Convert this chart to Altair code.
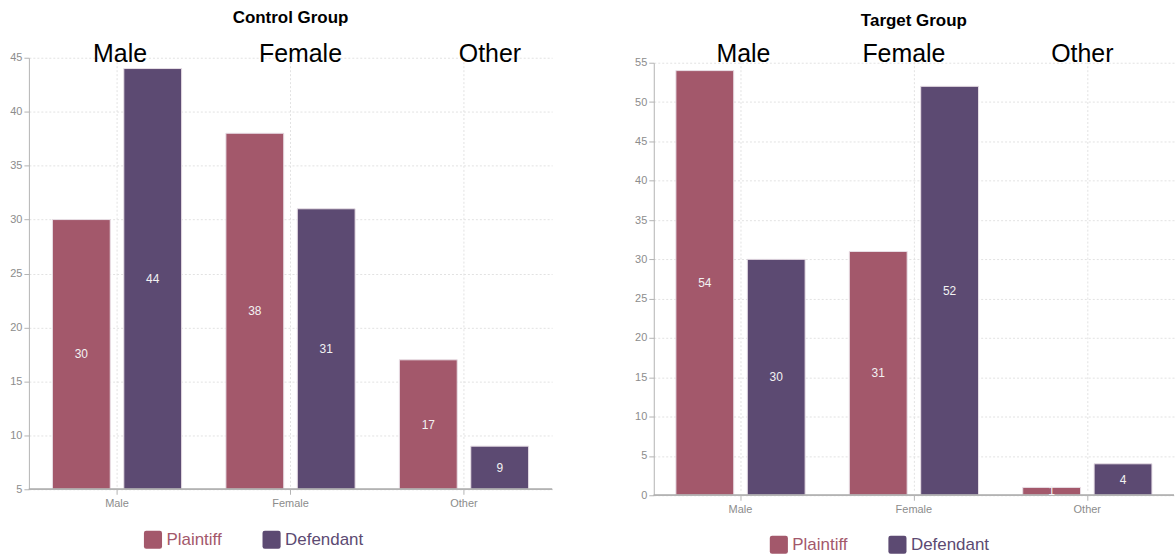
import altair as alt
import pandas as pd

# Case counts by gender and party role
categories = ["Male", "Female", "Other"]
roles = ["Plaintiff", "Defendant"]

control_plaintiff = [30, 38, 17]
control_defendant = [44, 31, 9]
target_plaintiff = [54, 31, 1]
target_defendant = [30, 52, 4]

PLAINTIFF_COLOR = "#a3586b"
DEFENDANT_COLOR = "#5c4a72"
FONT = "Liberation Sans"
AXIS_GREY = "#b4b4b4"
LABEL_GREY = "#8c8c8c"

# rounded square used as the legend swatch
ROUNDED_SQUARE = (
    "M-1,-0.75 Q-1,-1 -0.75,-1 L0.75,-1 Q1,-1 1,-0.75 L1,0.75 "
    "Q1,1 0.75,1 L-0.75,1 Q-1,1 -1,0.75 Z"
)


def make_frame(plaintiff, defendant):
    return pd.DataFrame(
        {
            "gender": categories * 2,
            "role": [roles[0]] * len(categories) + [roles[1]] * len(categories),
            "count": list(plaintiff) + list(defendant),
        }
    )


def panel(title, plaintiff, defendant, y_min, y_max, y_step, width, height,
          top_gap, x_scale, heading_dx, legend_xy, title_offset):
    df = make_frame(plaintiff, defendant)
    base = alt.Chart(df).transform_calculate(
        floor=f"{y_min}", mid=f"(datum.count + {y_min}) / 2"
    )

    x_axis = alt.Axis(
        title=None,
        labelAngle=0,
        bandPosition=0.5,
        domain=False,
        grid=True,
        gridDash=[2, 2],
        gridColor="#e2e2e2",
        tickColor=AXIS_GREY,
        tickSize=5,
        labelColor=LABEL_GREY,
        labelFontSize=11,
        labelFont=FONT,
        labelPadding=3,
    )
    x_enc = alt.X("gender:N", sort=categories, scale=x_scale, axis=x_axis)
    xoff = alt.XOffset(
        "role:N", sort=roles, scale=alt.Scale(paddingInner=0.19, paddingOuter=0.31)
    )
    # the value range may start a few pixels below the top of the panel
    y_scale = alt.Scale(domain=[y_min, y_max], zero=False, nice=False,
                        range=[height, top_gap])
    y_axis = alt.Axis(
        title=None,
        values=list(range(y_min, y_max + 1, y_step)),
        labelOverlap=False,
        grid=True,
        gridDash=[2, 2],
        gridColor="#e2e2e2",
        domainColor=AXIS_GREY,
        tickColor=AXIS_GREY,
        tickSize=5,
        labelColor=LABEL_GREY,
        labelFontSize=11,
        labelFont=FONT,
        labelPadding=2,
    )

    bars = base.mark_bar(stroke="#e8dfe6", strokeWidth=1).encode(
        x=x_enc,
        xOffset=xoff,
        y=alt.Y("count:Q", scale=y_scale, axis=y_axis),
        y2="floor:Q",
        color=alt.Color(
            "role:N",
            sort=roles,
            scale=alt.Scale(domain=roles, range=[PLAINTIFF_COLOR, DEFENDANT_COLOR]),
            legend=alt.Legend(
                title=None,
                orient="none",
                legendX=legend_xy[0],
                legendY=legend_xy[1],
                direction="horizontal",
                symbolType=ROUNDED_SQUARE,
                symbolSize=330,
                symbolStrokeWidth=0,
                symbolOpacity=1,
                labelFontSize=17,
                labelFont=FONT,
                labelOffset=4,
                columnPadding=40,
                labelColor=alt.ExprRef(
                    f"datum.value === '{roles[0]}' ? '{PLAINTIFF_COLOR}' : '{DEFENDANT_COLOR}'"
                ),
            ),
        ),
    )

    # baseline along the bottom of the panel
    baseline = alt.Chart(df).mark_rule(color=AXIS_GREY, strokeWidth=1).encode(
        y=alt.Y(datum=y_min, scale=y_scale, axis=y_axis)
    )

    values = base.mark_text(
        color="#f2f2f2", fontSize=12, font=FONT, baseline="middle", clip=True
    ).encode(
        x=x_enc,
        xOffset=xoff,
        y=alt.Y("mid:Q", scale=y_scale, axis=y_axis),
        text=alt.Text("count:Q"),
    )

    # large gender headings above each group of bars
    headings = [
        alt.Chart(df)
        .transform_filter(alt.datum.gender == cat)
        .transform_filter(alt.datum.role == roles[0])
        .mark_text(fontSize=25, font=FONT, color="#000000", baseline="alphabetic",
                   dx=dx, text=cat)
        .encode(x=x_enc, y=alt.value(4))
        for cat, dx in zip(categories, heading_dx)
    ]

    return alt.layer(bars, baseline, values, *headings).properties(
        width=width,
        height=height,
        title=alt.TitleParams(
            title, fontSize=17, font=FONT, fontWeight="bold", color="#000000",
            offset=title_offset
        ),
    )


left_x = alt.Scale(paddingInner=0, paddingOuter=0.008)
right_x = alt.Scale(paddingInner=0, paddingOuter=0)

left = panel("Control Group", control_plaintiff, control_defendant,
             5, 45, 5, 525, 433, 0, left_x, [3, 10, 26], (115, 474), 15)
right = panel("Target Group", target_plaintiff, target_defendant,
              0, 55, 5, 522, 439, 5, right_x, [3, -10, -5], (116, 479), 12)

chart = (
    alt.hconcat(left, right, spacing=81)
    .resolve_scale(color="independent", x="independent", y="independent")
    .resolve_legend(color="independent")
    .properties(padding={"left": 9, "top": 8, "right": 0, "bottom": 0})
    .configure_view(stroke=None)
)

chart.save("out.html", embed_options={"renderer": "svg", "actions": False})
